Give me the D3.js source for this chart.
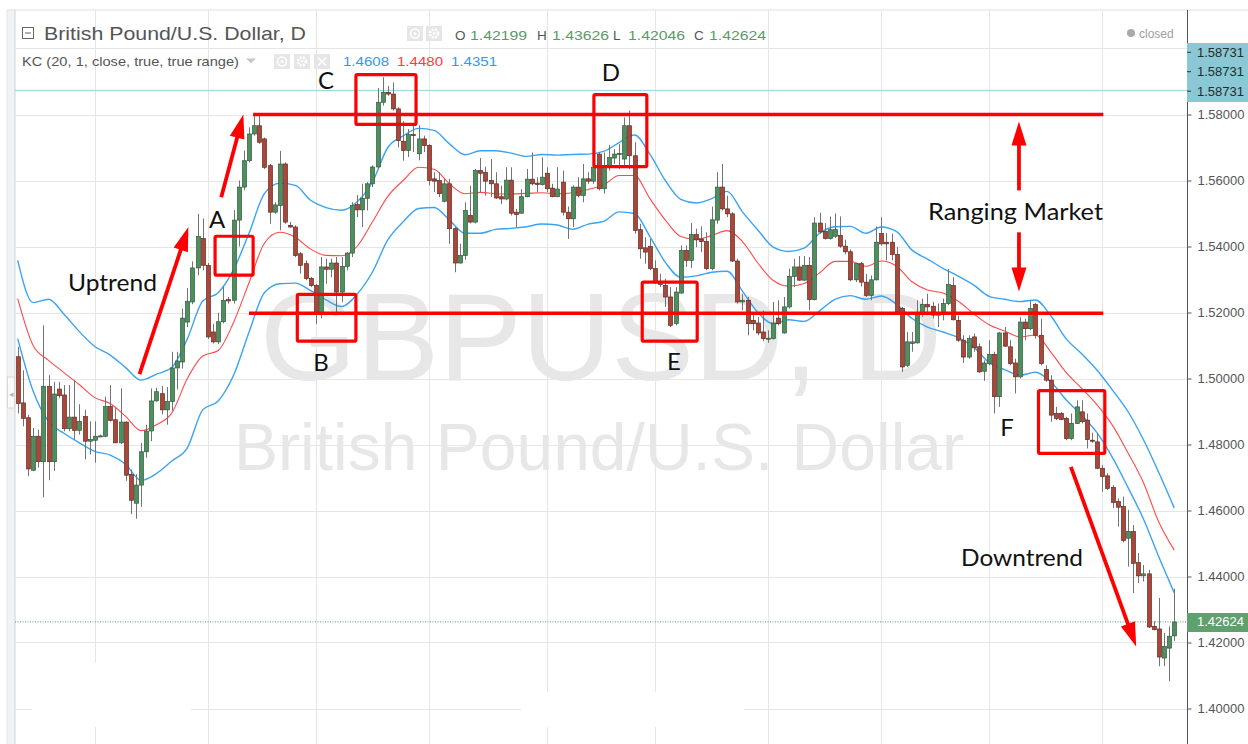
<!DOCTYPE html>
<html>
<head>
<meta charset="utf-8">
<script src="https://cdn.jsdelivr.net/npm/d3@7"></script>
<style>
  body { margin: 0; background: #fff; }
  svg { display: block; font-family: "Liberation Sans", Arial, sans-serif; }
</style>
</head>
<body>
<div id="chart"></div>
<script>
// GBPUSD daily candles (oldest first)
const opens = [1.5066,1.4926,1.4881,1.4722,1.4825,1.4748,1.4976,1.4748,1.4968,1.4950,1.4848,1.4883,1.4843,1.4885,1.4810,1.4813,1.4825,1.4825,1.4915,1.4875,
  1.4805,1.4868,1.4709,1.4622,1.4677,1.4778,1.4841,1.4932,1.4954,1.4905,1.4930,1.5032,1.5050,1.5171,1.5232,1.5335,1.5424,1.5343,1.5141,1.5111,
  1.5172,1.5239,1.5237,1.5480,1.5580,1.5660,1.5741,1.5766,1.5726,1.5645,1.5504,1.5524,1.5650,1.5464,1.5459,1.5378,1.5348,1.5303,1.5282,1.5197,
  1.5338,1.5331,1.5350,1.5262,1.5340,1.5380,1.5527,1.5511,1.5546,1.5590,1.5641,1.5837,1.5867,1.5862,1.5817,1.5719,1.5691,1.5739,1.5681,1.5726,
  1.5706,1.5605,1.5600,1.5537,1.5590,1.5454,1.5350,1.5373,1.5494,1.5474,1.5630,1.5625,1.5600,1.5590,1.5551,1.5544,1.5601,1.5504,1.5501,1.5551,
  1.5604,1.5592,1.5588,1.5622,1.5577,1.5551,1.5595,1.5504,1.5484,1.5580,1.5555,1.5605,1.5598,1.5680,1.5575,1.5640,1.5668,1.5680,1.5665,1.5766,
  1.5675,1.5451,1.5396,1.5400,1.5333,1.5294,1.5282,1.5247,1.5167,1.5259,1.5388,1.5358,1.5436,1.5423,1.5415,1.5333,1.5480,1.5580,1.5514,1.5499,
  1.5356,1.5232,1.5237,1.5176,1.5168,1.5141,1.5120,1.5121,1.5183,1.5138,1.5217,1.5309,1.5338,1.5298,1.5343,1.5239,1.5471,1.5446,1.5424,1.5431,
  1.5434,1.5401,1.5384,1.5299,1.5348,1.5292,1.5252,1.5299,1.5439,1.5413,1.5413,1.5376,1.5212,1.5040,1.5106,1.5108,1.5197,1.5224,1.5219,1.5192,
  1.5197,1.5227,1.5282,1.5176,1.5116,1.5065,1.5126,1.5096,1.5022,1.5045,1.5073,1.4945,1.5138,1.5096,1.5047,1.5005,1.5171,1.5151,1.5224,1.5131,
  1.5027,1.4995,1.4894,1.4894,1.4879,1.4818,1.4864,1.4899,1.4874,1.4813,1.4808,1.4728,1.4705,1.4670,1.4627,1.4612,1.4516,1.4536,1.4442,1.4402,
  1.4408,1.4249,1.4241,1.4153,1.4183,1.4220];
const highs = [1.5096,1.5025,1.4890,1.4850,1.4845,1.5161,1.5010,1.4990,1.4990,1.4980,1.4980,1.4995,1.4922,1.4905,1.4870,1.4870,1.4830,1.4945,1.4980,1.4910,
  1.4970,1.4870,1.4724,1.4710,1.4805,1.4860,1.4970,1.4972,1.4977,1.4974,1.5081,1.5081,1.5212,1.5274,1.5355,1.5499,1.5485,1.5350,1.5166,1.5199,
  1.5279,1.5247,1.5510,1.5600,1.5691,1.5761,1.5797,1.5797,1.5730,1.5650,1.5534,1.5690,1.5655,1.5474,1.5464,1.5383,1.5358,1.5308,1.5287,1.5368,
  1.5363,1.5363,1.5368,1.5368,1.5383,1.5534,1.5556,1.5590,1.5595,1.5646,1.5880,1.5913,1.5887,1.5897,1.5822,1.5780,1.5756,1.5771,1.5767,1.5736,
  1.5710,1.5625,1.5625,1.5605,1.5605,1.5459,1.5408,1.5534,1.5584,1.5635,1.5668,1.5642,1.5665,1.5625,1.5584,1.5640,1.5640,1.5514,1.5574,1.5635,
  1.5685,1.5610,1.5670,1.5640,1.5590,1.5640,1.5630,1.5521,1.5585,1.5610,1.5650,1.5625,1.5675,1.5685,1.5685,1.5708,1.5695,1.5710,1.5791,1.5812,
  1.5716,1.5469,1.5428,1.5423,1.5358,1.5317,1.5302,1.5277,1.5277,1.5403,1.5403,1.5471,1.5454,1.5461,1.5443,1.5521,1.5625,1.5650,1.5554,1.5504,
  1.5363,1.5257,1.5247,1.5196,1.5186,1.5206,1.5146,1.5232,1.5237,1.5247,1.5333,1.5363,1.5371,1.5371,1.5368,1.5489,1.5502,1.5471,1.5491,1.5500,
  1.5491,1.5421,1.5391,1.5350,1.5353,1.5317,1.5312,1.5461,1.5489,1.5441,1.5439,1.5398,1.5217,1.5141,1.5141,1.5237,1.5242,1.5257,1.5232,1.5227,
  1.5242,1.5332,1.5307,1.5191,1.5131,1.5131,1.5136,1.5106,1.5055,1.5116,1.5081,1.5141,1.5156,1.5116,1.5060,1.5186,1.5181,1.5237,1.5229,1.5181,
  1.5040,1.5010,1.4914,1.4899,1.4884,1.4894,1.4934,1.4934,1.4894,1.4836,1.4834,1.4738,1.4713,1.4677,1.4637,1.4642,1.4602,1.4556,1.4471,1.4435,
  1.4420,1.4264,1.4335,1.4229,1.4249,1.4363];
const lows = [1.4894,1.4855,1.4704,1.4719,1.4730,1.4640,1.4692,1.4720,1.4940,1.4840,1.4840,1.4815,1.4830,1.4755,1.4770,1.4745,1.4822,1.4822,1.4870,1.4805,
  1.4802,1.4690,1.4589,1.4575,1.4611,1.4760,1.4810,1.4930,1.4891,1.4860,1.4902,1.4967,1.5030,1.5156,1.5225,1.5313,1.5328,1.5120,1.5106,1.5104,
  1.5167,1.5227,1.5227,1.5400,1.5570,1.5655,1.5736,1.5711,1.5635,1.5469,1.5499,1.5449,1.5469,1.5457,1.5368,1.5318,1.5298,1.5277,1.5166,1.5182,
  1.5287,1.5307,1.5192,1.5232,1.5328,1.5368,1.5489,1.5459,1.5509,1.5580,1.5636,1.5827,1.5857,1.5812,1.5700,1.5660,1.5671,1.5686,1.5661,1.5686,
  1.5585,1.5565,1.5550,1.5534,1.5408,1.5322,1.5348,1.5360,1.5470,1.5470,1.5565,1.5554,1.5550,1.5544,1.5529,1.5540,1.5494,1.5459,1.5499,1.5549,
  1.5585,1.5565,1.5585,1.5565,1.5549,1.5549,1.5494,1.5423,1.5459,1.5549,1.5534,1.5590,1.5590,1.5570,1.5560,1.5630,1.5650,1.5635,1.5640,1.5635,
  1.5439,1.5363,1.5348,1.5328,1.5287,1.5277,1.5217,1.5156,1.5161,1.5257,1.5338,1.5335,1.5398,1.5383,1.5328,1.5328,1.5469,1.5509,1.5489,1.5353,
  1.5227,1.5207,1.5131,1.5146,1.5131,1.5113,1.5108,1.5118,1.5161,1.5136,1.5212,1.5277,1.5296,1.5296,1.5207,1.5237,1.5439,1.5421,1.5421,1.5426,
  1.5396,1.5376,1.5295,1.5292,1.5279,1.5247,1.5237,1.5297,1.5403,1.5358,1.5358,1.5200,1.5020,1.5035,1.5081,1.5106,1.5187,1.5192,1.5182,1.5156,
  1.5176,1.5222,1.5176,1.5111,1.5047,1.5060,1.5081,1.5017,1.4993,1.5040,1.4894,1.4914,1.5096,1.5040,1.4955,1.5000,1.5116,1.5146,1.5121,1.5040,
  1.4990,1.4869,1.4874,1.4874,1.4813,1.4813,1.4862,1.4864,1.4788,1.4805,1.4725,1.4657,1.4662,1.4607,1.4551,1.4503,1.4430,1.4350,1.4380,1.4385,
  1.4244,1.4237,1.4128,1.4128,1.4083,1.4205];
const closes = [1.4924,1.4879,1.4726,1.4825,1.4748,1.4976,1.4748,1.4953,1.4948,1.4848,1.4883,1.4843,1.4870,1.4810,1.4815,1.4825,1.4826,1.4915,1.4873,1.4805,
  1.4868,1.4707,1.4631,1.4677,1.4778,1.4841,1.4932,1.4960,1.4905,1.4930,1.5032,1.5053,1.5183,1.5234,1.5335,1.5430,1.5343,1.5126,1.5111,1.5172,
  1.5237,1.5235,1.5480,1.5580,1.5660,1.5741,1.5766,1.5716,1.5640,1.5504,1.5526,1.5650,1.5474,1.5459,1.5373,1.5343,1.5303,1.5282,1.5197,1.5338,
  1.5331,1.5350,1.5262,1.5340,1.5380,1.5524,1.5511,1.5546,1.5590,1.5641,1.5837,1.5867,1.5862,1.5817,1.5721,1.5691,1.5739,1.5736,1.5726,1.5706,
  1.5600,1.5598,1.5560,1.5590,1.5454,1.5350,1.5373,1.5509,1.5474,1.5630,1.5622,1.5598,1.5590,1.5547,1.5544,1.5601,1.5501,1.5497,1.5551,1.5604,
  1.5590,1.5588,1.5610,1.5575,1.5551,1.5574,1.5504,1.5484,1.5580,1.5555,1.5605,1.5598,1.5640,1.5575,1.5645,1.5670,1.5680,1.5682,1.5766,1.5675,
  1.5449,1.5393,1.5383,1.5333,1.5292,1.5285,1.5247,1.5161,1.5262,1.5388,1.5358,1.5436,1.5420,1.5415,1.5333,1.5481,1.5580,1.5514,1.5499,1.5356,
  1.5232,1.5237,1.5166,1.5166,1.5138,1.5121,1.5122,1.5168,1.5166,1.5217,1.5309,1.5338,1.5298,1.5343,1.5239,1.5471,1.5444,1.5424,1.5451,1.5451,
  1.5401,1.5384,1.5299,1.5348,1.5292,1.5252,1.5299,1.5413,1.5408,1.5408,1.5376,1.5202,1.5035,1.5111,1.5111,1.5197,1.5224,1.5217,1.5192,1.5197,
  1.5227,1.5285,1.5178,1.5116,1.5065,1.5121,1.5093,1.5020,1.5047,1.5073,1.4945,1.5138,1.5098,1.5045,1.5005,1.5171,1.5151,1.5212,1.5131,1.5045,
  1.4995,1.4889,1.4879,1.4876,1.4818,1.4864,1.4914,1.4869,1.4815,1.4810,1.4728,1.4703,1.4667,1.4624,1.4610,1.4509,1.4536,1.4440,1.4402,1.4408,
  1.4247,1.4239,1.4156,1.4188,1.4219,1.4262];

// Keltner channel KC(20,1), sampled every 3rd candle
const kcIndex = d3.range(0, 226, 3);
const kcUpper = [1.5358,1.5230,1.5240,1.5195,1.5142,1.5097,1.5071,1.5033,1.4995,1.5013,
  1.5034,1.5120,1.5235,1.5260,1.5330,1.5440,1.5560,1.5592,1.5585,1.5540,
  1.5518,1.5510,1.5535,1.5595,1.5700,1.5735,1.5758,1.5752,1.5711,1.5678,
  1.5690,1.5690,1.5683,1.5673,1.5679,1.5677,1.5679,1.5680,1.5688,1.5715,
  1.5738,1.5680,1.5600,1.5543,1.5532,1.5545,1.5567,1.5505,1.5450,1.5398,
  1.5385,1.5395,1.5440,1.5460,1.5461,1.5440,1.5459,1.5445,1.5389,1.5362,
  1.5334,1.5310,1.5283,1.5249,1.5240,1.5233,1.5238,1.5190,1.5120,1.5075,
  1.5025,1.4965,1.4900,1.4815,1.4715,1.4608];
const kcMiddle = [1.5242,1.5100,1.5055,1.5018,1.4981,1.4942,1.4924,1.4885,1.4842,1.4860,
  1.4896,1.5000,1.5068,1.5085,1.5170,1.5290,1.5410,1.5443,1.5428,1.5392,
  1.5373,1.5372,1.5400,1.5474,1.5552,1.5600,1.5640,1.5634,1.5590,1.5560,
  1.5564,1.5560,1.5559,1.5561,1.5563,1.5560,1.5563,1.5573,1.5586,1.5615,
  1.5615,1.5545,1.5480,1.5430,1.5421,1.5433,1.5448,1.5415,1.5350,1.5297,
  1.5280,1.5288,1.5320,1.5355,1.5355,1.5340,1.5356,1.5340,1.5293,1.5268,
  1.5259,1.5234,1.5196,1.5163,1.5144,1.5126,1.5132,1.5080,1.5018,1.4970,
  1.4920,1.4858,1.4775,1.4685,1.4565,1.4480];
const kcLower = [1.5121,1.4962,1.4870,1.4834,1.4805,1.4779,1.4768,1.4740,1.4691,1.4712,
  1.4750,1.4790,1.4905,1.4932,1.5010,1.5140,1.5260,1.5287,1.5289,1.5266,
  1.5238,1.5218,1.5255,1.5322,1.5420,1.5475,1.5515,1.5518,1.5480,1.5440,
  1.5440,1.5452,1.5455,1.5460,1.5468,1.5465,1.5452,1.5468,1.5476,1.5505,
  1.5500,1.5430,1.5352,1.5307,1.5311,1.5322,1.5325,1.5265,1.5200,1.5166,
  1.5178,1.5173,1.5205,1.5240,1.5251,1.5240,1.5250,1.5225,1.5182,1.5156,
  1.5141,1.5124,1.5095,1.5048,1.5027,1.5010,1.5019,1.4990,1.4935,1.4888,
  1.4835,1.4760,1.4670,1.4575,1.4460,1.4351];

const priceTicks = [1.40,1.42,1.44,1.46,1.48,1.50,1.52,1.54,1.56,1.58];
const gridPrices = [1.40,1.42,1.44,1.46,1.48,1.50,1.52,1.54,1.56,1.58,1.60];
const monthStarts = [15,37,58,80,103,124,146,168,189,211];
const lastOHLC = [1.42199, 1.43626, 1.42046, 1.42624];
const lastClose = 1.42624;
const highMark = 1.58731;

// hand-drawn annotations, in candle index / price units
const boxes = [[38.4,45.8,1.5431,1.5313],[54.4,65.8,1.5255,1.5113],[65.8,77.5,1.5921,1.5770],
  [112.1,122.4,1.5860,1.5642],[121.5,132.2,1.5292,1.5113],[198.6,211.5,1.4963,1.4773]];
const levels = [[45.8,211.2,1.5800],[45.0,211.2,1.5198]];
const arrows = [[23.7,1.5013,33.2,1.5459],[39.6,1.5549,43.9,1.5800],
  [194.8,1.5570,194.8,1.5779],[194.8,1.5443,194.8,1.5264],[204.9,1.4732,217.6,1.4188]];

const W = 1248, H = 744;
const plotL = 15, plotR = 1187, plotT = 10;

const svg = d3.select("#chart").append("svg")
    .attr("width", W)
    .attr("height", H);

const x = d3.scaleLinear().domain([0, 225]).range([17.7, 1174.2]);
const y = d3.scaleLinear().domain([1.40, 1.58]).range([708.5, 114.5]);

// frame
svg.append("rect").attr("x", 7).attr("y", plotT).attr("width", 8).attr("height", H - plotT).attr("fill", "#f1f2f4");
svg.append("line").attr("x1", 7).attr("x2", W).attr("y1", plotT).attr("y2", plotT).attr("stroke", "#e0e0e0");
svg.append("line").attr("x1", 7).attr("x2", 7).attr("y1", plotT).attr("y2", H).attr("stroke", "#e3e3e3");
svg.append("line").attr("x1", plotL).attr("x2", plotL).attr("y1", plotT).attr("y2", H).attr("stroke", "#cfd2d6");
svg.append("rect").attr("x", 7.5).attr("y", 377).attr("width", 7).attr("height", 31)
    .attr("fill", "#fafafa").attr("stroke", "#d8d8d8");
svg.append("text").attr("x", 11).attr("y", 397).attr("text-anchor", "middle")
    .attr("font-size", 9).attr("fill", "#b5b5b5").text("◂");

// grid
const grid = svg.append("g");
grid.selectAll(".hg").data(gridPrices).enter().append("line")
    .attr("x1", plotL).attr("x2", plotR)
    .attr("y1", d => Math.round(y(d)) + 0.5).attr("y2", d => Math.round(y(d)) + 0.5)
    .attr("stroke", "#e6e6e6");
grid.selectAll(".vg").data(monthStarts).enter().append("line")
    .attr("x1", d => Math.round(x(d)) + 0.5).attr("x2", d => Math.round(x(d)) + 0.5)
    .attr("y1", plotT).attr("y2", H)
    .attr("stroke", "#e6e6e6");
// blank patches near the bottom edge
svg.append("rect").attr("x", 32).attr("y", 663).attr("width", 159).attr("height", 64).attr("fill", "#fff");
svg.append("rect").attr("x", 521).attr("y", 692).attr("width", 223).attr("height", 35).attr("fill", "#fff");

// watermark
svg.append("text").attr("x", 601).attr("y", 380).attr("text-anchor", "middle")
    .attr("font-size", 124).attr("fill", "#e7e7e7").text("GBPUSD, D");
svg.append("text").attr("x", 599).attr("y", 470).attr("text-anchor", "middle")
    .attr("font-size", 66).attr("fill", "#e7e7e7").text("British Pound/U.S. Dollar");

// price lines
svg.append("line").attr("x1", plotL).attr("x2", plotR)
    .attr("y1", y(highMark)).attr("y2", y(highMark))
    .attr("stroke", "#93d2de").attr("stroke-width", 1);
svg.append("line").attr("x1", plotL).attr("x2", plotR)
    .attr("y1", y(lastClose)).attr("y2", y(lastClose))
    .attr("stroke", "#5e9e6c").attr("stroke-dasharray", "1,1.5");

// Keltner channel
const kcLine = vals => d3.line()
    .x((d, i) => x(kcIndex[i]))
    .y(d => y(d))
    .curve(d3.curveMonotoneX)(vals);
svg.append("path").attr("d", kcLine(kcUpper)).attr("fill", "none").attr("stroke", "#3aa3f5").attr("stroke-width", 1.4);
svg.append("path").attr("d", kcLine(kcLower)).attr("fill", "none").attr("stroke", "#3aa3f5").attr("stroke-width", 1.4);
svg.append("path").attr("d", kcLine(kcMiddle)).attr("fill", "none").attr("stroke", "#ff4a4a").attr("stroke-width", 1.1);

// candles
const candles = opens.map((o, i) => ({i: i, o: o, h: highs[i], l: lows[i], c: closes[i]}));
const cg = svg.append("g");
cg.selectAll(".wick").data(candles).enter().append("line")
    .attr("x1", d => Math.round(x(d.i)) + 0.5).attr("x2", d => Math.round(x(d.i)) + 0.5)
    .attr("y1", d => y(d.h)).attr("y2", d => y(d.l))
    .attr("stroke", "#737373").attr("stroke-width", 1);
cg.selectAll(".body").data(candles).enter().append("rect")
    .attr("x", d => Math.round(x(d.i)) - 1.5)
    .attr("width", 4)
    .attr("y", d => y(Math.max(d.o, d.c)))
    .attr("height", d => Math.max(1, Math.abs(y(d.o) - y(d.c))))
    .attr("fill", d => d.c >= d.o ? "#4f8f5f" : "#a9473a")
    .attr("stroke", d => d.c >= d.o ? "#2f5b3b" : "#652a22")
    .attr("stroke-width", 0.7);

// annotations
const red = "#ff0000";
const ann = svg.append("g");
ann.selectAll(".lvl").data(levels).enter().append("line")
    .attr("x1", d => x(d[0])).attr("x2", d => x(d[1]))
    .attr("y1", d => y(d[2])).attr("y2", d => y(d[2]))
    .attr("stroke", red).attr("stroke-width", 3.5);
ann.selectAll(".box").data(boxes).enter().append("rect")
    .attr("x", d => x(d[0])).attr("y", d => y(d[2]))
    .attr("width", d => x(d[1]) - x(d[0])).attr("height", d => y(d[3]) - y(d[2]))
    .attr("fill", "none").attr("stroke", red).attr("stroke-width", 3.2)
    .attr("rx", 1.5);

arrows.forEach(a => {
    let x1 = x(a[0]), y1 = y(a[1]), x2 = x(a[2]), y2 = y(a[3]);
    let len = Math.hypot(x2 - x1, y2 - y1);
    let ux = (x2 - x1) / len, uy = (y2 - y1) / len;
    let headL = 24, headW = 7.5;
    let bx = x2 - ux * headL, by = y2 - uy * headL;
    ann.append("line").attr("x1", x1).attr("y1", y1).attr("x2", bx + ux * 2).attr("y2", by + uy * 2)
        .attr("stroke", red).attr("stroke-width", 3.8);
    ann.append("path")
        .attr("d", `M${x2},${y2}L${bx - uy * headW},${by + ux * headW}L${bx + uy * headW},${by - ux * headW}Z`)
        .attr("fill", red);
});

const labelFont = "Lato, 'Open Sans', sans-serif";
const notes = [
    {t: "A", x: 217, y: 228}, {t: "B", x: 321, y: 371}, {t: "C", x: 326, y: 89},
    {t: "D", x: 611, y: 81}, {t: "E", x: 674, y: 370}, {t: "F", x: 1007, y: 436}
];
ann.selectAll(".lbl").data(notes).enter().append("text")
    .attr("x", d => d.x).attr("y", d => d.y).attr("text-anchor", "middle")
    .attr("font-family", labelFont).attr("font-size", 24).attr("fill", "#111")
    .text(d => d.t);
ann.append("text").attr("x", 68).attr("y", 291).attr("font-family", labelFont).attr("font-size", 23)
    .attr("fill", "#111").attr("textLength", 89).attr("lengthAdjust", "spacingAndGlyphs").text("Uptrend");
ann.append("text").attr("x", 928).attr("y", 220).attr("font-family", labelFont).attr("font-size", 24)
    .attr("fill", "#111").attr("textLength", 175).attr("lengthAdjust", "spacingAndGlyphs").text("Ranging Market");
ann.append("text").attr("x", 961).attr("y", 566).attr("font-family", labelFont).attr("font-size", 23)
    .attr("fill", "#111").attr("textLength", 122).attr("lengthAdjust", "spacingAndGlyphs").text("Downtrend");

// right price axis
svg.append("line").attr("x1", plotR + 0.5).attr("x2", plotR + 0.5).attr("y1", plotT).attr("y2", H)
    .attr("stroke", "#555");
const yAxis = d3.axisRight(y).tickValues(priceTicks).tickFormat(d3.format(".5f")).tickSize(4).tickPadding(6);
const yg = svg.append("g").attr("transform", `translate(${plotR + 0.5},0)`).call(yAxis);
yg.select(".domain").remove();
yg.selectAll(".tick line").attr("stroke", "#555");
yg.selectAll(".tick text").attr("fill", "#555").attr("font-size", 13)
    .attr("font-family", "'Liberation Sans', Arial, sans-serif");

// price badges
const badgeY = [52.3, 71.7, 91.2];
svg.append("rect").attr("x", plotR).attr("y", 43).attr("width", W - plotR).attr("height", 59).attr("fill", "#89c8d4");
badgeY.forEach(by => {
    svg.append("line").attr("x1", plotR).attr("x2", plotR + 4).attr("y1", by).attr("y2", by).attr("stroke", "#333");
    svg.append("text").attr("x", plotR + 10).attr("y", by).attr("dy", "0.35em")
        .attr("font-size", 13).attr("fill", "#2a2a2a").text(highMark.toFixed(5));
});
svg.append("rect").attr("x", plotR).attr("y", 613).attr("width", W - plotR).attr("height", 19).attr("fill", "#60a06f");
svg.append("text").attr("x", plotR + 10).attr("y", y(lastClose)).attr("dy", "0.35em")
    .attr("font-size", 13).attr("fill", "#fff").text(lastClose.toFixed(5));

// status
svg.append("circle").attr("cx", 1131).attr("cy", 33).attr("r", 4).attr("fill", "#aaa");
svg.append("text").attr("x", 1139).attr("y", 37.5).attr("font-size", 12).attr("fill", "#a0a0a0").text("closed");

// legend header
const head = svg.append("g");
head.append("rect").attr("x", 22.5).attr("y", 27.5).attr("width", 11).attr("height", 11)
    .attr("fill", "none").attr("stroke", "#666");
head.append("line").attr("x1", 25).attr("x2", 31).attr("y1", 33).attr("y2", 33).attr("stroke", "#666");
head.append("text").attr("x", 44).attr("y", 40).attr("font-size", 19).attr("fill", "#555")
    .attr("textLength", 262).attr("lengthAdjust", "spacingAndGlyphs").text("British Pound/U.S. Dollar, D");

function iconBox(g, x0, y0, kind) {
    g.append("rect").attr("x", x0).attr("y", y0).attr("width", 16).attr("height", 15).attr("fill", "#e6e6e6");
    if (kind === "eye") {
        g.append("circle").attr("cx", x0 + 8).attr("cy", y0 + 7.5).attr("r", 4.5).attr("fill", "none").attr("stroke", "#fff").attr("stroke-width", 1.5);
        g.append("circle").attr("cx", x0 + 8).attr("cy", y0 + 7.5).attr("r", 1.5).attr("fill", "#fff");
    } else if (kind === "gear") {
        g.append("circle").attr("cx", x0 + 8).attr("cy", y0 + 7.5).attr("r", 4).attr("fill", "none").attr("stroke", "#fff").attr("stroke-width", 2.5).attr("stroke-dasharray", "2,1.2");
        g.append("circle").attr("cx", x0 + 8).attr("cy", y0 + 7.5).attr("r", 1.4).attr("fill", "#fff");
    } else {
        g.append("path").attr("d", `M${x0 + 4},${y0 + 3.5}L${x0 + 12},${y0 + 11.5}M${x0 + 12},${y0 + 3.5}L${x0 + 4},${y0 + 11.5}`)
            .attr("stroke", "#fff").attr("stroke-width", 1.6);
    }
}
iconBox(head, 407, 26, "eye");
iconBox(head, 426, 26, "gear");

const ohlcKeys = [["O", 455], ["H", 537], ["L", 613], ["C", 694]];
ohlcKeys.forEach((d, k) => {
    head.append("text").attr("x", d[1]).attr("y", 40).attr("font-size", 13.5).attr("fill", "#555").text(d[0]);
    head.append("text").attr("x", d[1] + 15).attr("y", 40).attr("font-size", 13.5).attr("fill", "#5a9a66")
        .attr("textLength", 57).attr("lengthAdjust", "spacingAndGlyphs").text(lastOHLC[k].toFixed(5));
});

head.append("text").attr("x", 22).attr("y", 66).attr("font-size", 13.5).attr("fill", "#555")
    .attr("textLength", 217).attr("lengthAdjust", "spacingAndGlyphs").text("KC (20, 1, close, true, true range)");
head.append("path").attr("d", "M246,58.5L256,58.5L251,63.5Z").attr("fill", "#c8c8c8");
iconBox(head, 274, 54, "eye");
iconBox(head, 294, 54, "gear");
iconBox(head, 314, 54, "x");

const kcLast = [[343, kcUpper[kcUpper.length - 1], "#3399ee"], [397, kcMiddle[kcMiddle.length - 1], "#ff3b3b"],
    [451, kcLower[kcLower.length - 1], "#3399ee"]];
kcLast.forEach(d => {
    head.append("text").attr("x", d[0]).attr("y", 66).attr("font-size", 13.5).attr("fill", d[2])
        .attr("textLength", 46).attr("lengthAdjust", "spacingAndGlyphs").text(d[1].toFixed(4));
});
</script>
</body>
</html>
